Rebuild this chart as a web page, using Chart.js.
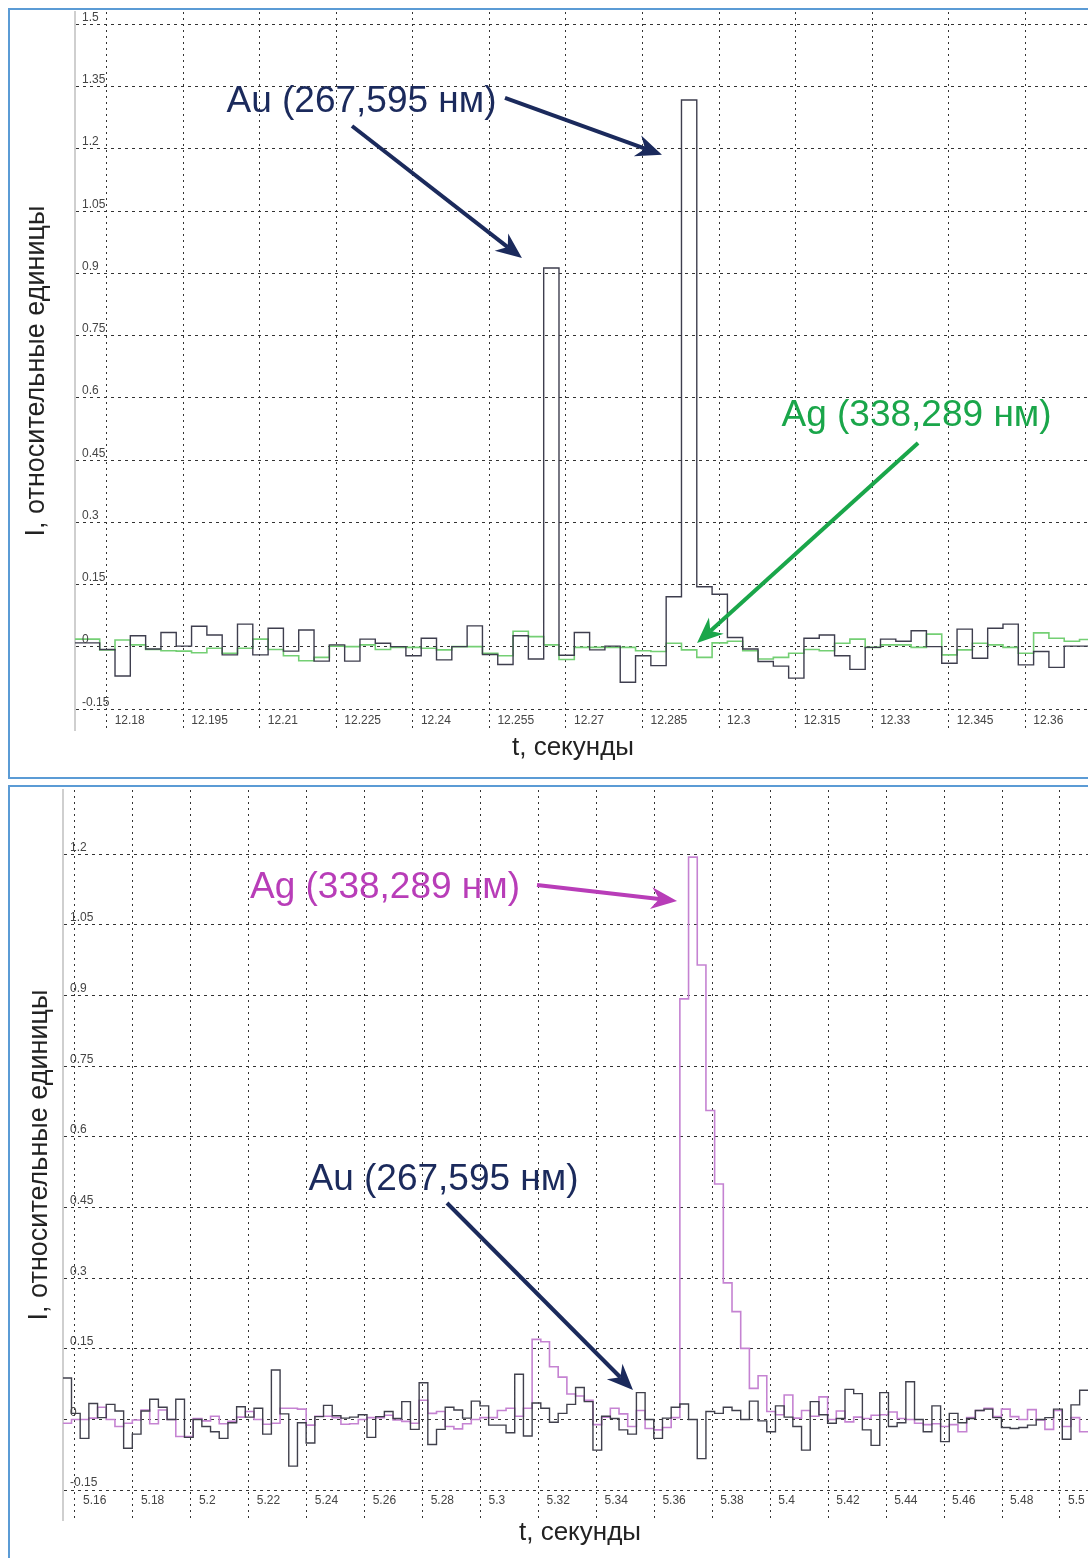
<!DOCTYPE html>
<html>
<head>
<meta charset="utf-8">
<script src="https://cdn.jsdelivr.net/npm/chart.js@4.4.1/dist/chart.umd.min.js"></script>
<style>
  body { margin: 0; background: #fff; width: 1088px; height: 1558px; overflow: hidden; position: relative; }
  .frame { position: absolute; border: 2px solid #5b9bd5; border-right: none; box-sizing: border-box; }
  canvas { position: absolute; left: 0; }
</style>
</head>
<body>
<div class="frame" style="left:8px;top:8px;width:1090px;height:771px"></div>
<div class="frame" style="left:8px;top:785px;width:1090px;height:790px"></div>
<canvas id="top" width="1088" height="780" style="top:0"></canvas>
<canvas id="bottom" width="1088" height="778" style="top:780px"></canvas>
<script>
// шаг дискретизации, с
const binStep = 0.003;

// верхний график
const topTicksX = [12.18, 12.195, 12.21, 12.225, 12.24, 12.255, 12.27, 12.285, 12.3, 12.315, 12.33, 12.345, 12.36];
const topTicksY = [-0.15, 0, 0.15, 0.3, 0.45, 0.6, 0.75, 0.9, 1.05, 1.2, 1.35, 1.5];
const topStart = 12.17263;
const topAu = [
  0.01, 0.01, -0.006, -0.07, 0.027, -0.005, 0.035, 0.002, 0.05, 0.029,
  -0.019, 0.055, -0.019, 0.045, -0.01, 0.041, -0.034, 0.005, -0.034, 0.019,
  0.009, 0.001, -0.021, 0.021, -0.031, 0.001, 0.051, -0.018, -0.042, 0.027,
  -0.029, 0.913, -0.02, 0.035, -0.007, 0.002, -0.085, -0.021, -0.045, 0.121,
  1.318, 0.145, 0.127, 0.023, -0.005, -0.035, -0.046, -0.075, 0.021, 0.029,
  -0.021, -0.054, -0.001, 0.019, 0.014, 0.039, 0.001, -0.039, 0.043, -0.027,
  0.045, 0.055, -0.043, -0.011, -0.049, 0.002, 0.002
];
const topAg = [
  0.019, 0.019, -0.007, 0.017, 0.005, -0.006, -0.009, -0.01, -0.014, -0.003,
  -0.015, -0.003, 0.019, -0.006, -0.021, -0.033, -0.025, 0.002, 0.001, 0.005,
  -0.006, -0.001, -0.001, -0.003, -0.007, 0.001, 0.001, -0.015, -0.021, 0.038,
  0.025, 0.005, -0.03, -0.001, -0.001, -0.001, -0.001, -0.009, -0.011, 0.009,
  -0.007, -0.025, 0.01, 0.014, -0.009, -0.029, -0.025, -0.015, -0.006, -0.009,
  0.009, 0.019, -0.001, 0.005, 0.005, -0.001, 0.031, -0.019, -0.007, 0.009,
  0.005, -0.001, -0.015, 0.034, 0.021, 0.014, 0.018
];

// нижний график
const botTicksX = [5.16, 5.18, 5.2, 5.22, 5.24, 5.26, 5.28, 5.3, 5.32, 5.34, 5.36, 5.38, 5.4, 5.42, 5.44, 5.46, 5.48, 5.5];
const botTicksY = [-0.15, 0, 0.15, 0.3, 0.45, 0.6, 0.75, 0.9, 1.05, 1.2];
const botStart = 5.15579;
const botAu = [
  0.088, 0.013, -0.04, 0.034, 0.004, 0.032, 0.018, -0.061, -0.031, 0.018,
  0.043, 0.026, 0.0, 0.043, -0.038, 0.0, -0.015, -0.026, -0.04, -0.007,
  0.027, 0.005, 0.024, -0.031, 0.105, 0.012, -0.099, -0.007, -0.05, 0.006,
  0.03, 0.008, 0.003, 0.005, 0.01, -0.038, 0.006, 0.017, 0.002, 0.038,
  -0.021, 0.078, -0.053, -0.021, 0.026, 0.02, 0.003, 0.039, 0.029, -0.012,
  -0.012, -0.028, 0.096, -0.035, 0.035, 0.024, -0.006, 0.013, 0.032, 0.068,
  0.038, -0.065, 0.007, 0.002, -0.022, -0.031, 0.057, 0.0, -0.04, 0.003,
  0.026, 0.033, 0.0, -0.083, 0.017, 0.013, 0.026, 0.019, 0.0, 0.039,
  -0.003, -0.026, 0.029, 0.005, -0.015, -0.065, 0.038, 0.01, -0.008, 0.002,
  0.064, 0.055, -0.022, -0.055, 0.057, -0.015, -0.007, 0.08, 0.0, -0.026,
  0.029, -0.047, 0.013, -0.007, 0.002, 0.019, 0.022, 0.004, -0.017, -0.019,
  -0.017, -0.012, 0.0, 0.004, 0.022, -0.042, 0.031, 0.062
];
const botAg = [
  -0.008, 0.0, 0.0, 0.003, 0.026, 0.0, -0.015, -0.008, -0.001, 0.02,
  -0.009, 0.02, 0.0, -0.036, -0.036, 0.002, -0.003, 0.007, -0.009, -0.004,
  0.005, 0.017, 0.0, -0.01, -0.008, 0.024, 0.024, 0.022, -0.012, 0.007,
  0.007, 0.004, -0.01, -0.009, 0.0, 0.004, 0.004, 0.009, -0.001, -0.004,
  -0.008, 0.041, 0.013, 0.017, -0.015, -0.02, -0.009, 0.0, 0.004, 0.004,
  0.019, 0.024, 0.007, 0.024, 0.17, 0.165, 0.112, 0.09, 0.054, 0.05,
  0.041, -0.011, 0.005, 0.024, 0.012, -0.015, 0.019, -0.019, -0.022, -0.017,
  0.004, 0.893, 1.194, 0.965, 0.656, 0.5, 0.29, 0.229, 0.151, 0.066,
  0.093, 0.017, 0.01, 0.052, 0.003, 0.019, 0.007, 0.048, 0.0, 0.018,
  -0.005, 0.005, 0.002, 0.009, 0.01, 0.016, 0.002, 0.0, -0.008, -0.011,
  -0.009, -0.015, -0.011, -0.026, 0.004, 0.019, 0.024, 0.006, 0.022, 0.006,
  0.0, 0.021, -0.001, -0.021, 0.019, -0.015, 0.004, -0.026
];

const FONT = '"Liberation Sans", Arial, sans-serif';
const NAVY = '#1b2a5c';

// точки ступенчатой линии: значение держится до начала следующего отсчёта
function steps(start, vals) {
  const pts = vals.map((v, k) => ({ x: start + k * binStep, y: v }));
  pts.push({ x: start + vals.length * binStep, y: vals[vals.length - 1] });
  return pts;
}

function arrow(ctx, x1, y1, x2, y2, color) {
  const ang = Math.atan2(y2 - y1, x2 - x1);
  const cos = Math.cos(ang), sin = Math.sin(ang);
  const len = 26, half = 11;
  const bx = x2 - cos * len, by = y2 - sin * len;
  ctx.strokeStyle = color;
  ctx.fillStyle = color;
  ctx.lineWidth = 4;
  ctx.beginPath();
  ctx.moveTo(x1, y1);
  ctx.lineTo(bx + cos * 8, by + sin * 8);
  ctx.stroke();
  ctx.beginPath();
  ctx.moveTo(x2, y2);
  ctx.lineTo(bx - sin * half, by + cos * half);
  ctx.lineTo(bx + cos * 8, by + sin * 8);
  ctx.lineTo(bx + sin * half, by - cos * half);
  ctx.closePath();
  ctx.fill();
}

function labelsPlugin(p) {
  return {
    id: 'labels',
    afterDraw(chart) {
      const { ctx, chartArea: a, scales: { x, y } } = chart;
      ctx.save();
      // подписи делений внутри поля графика
      ctx.fillStyle = '#444';
      ctx.font = '12px ' + FONT;
      ctx.textAlign = 'left';
      ctx.textBaseline = 'bottom';
      p.yTicks.forEach(v => ctx.fillText(String(v), a.left + 7, y.getPixelForValue(v) - 1));
      ctx.textBaseline = 'top';
      const ly = y.getPixelForValue(p.yTicks[0]) + 5;
      p.xTicks.forEach(v => ctx.fillText(String(v), x.getPixelForValue(v) + 8, ly));

      // названия осей
      ctx.fillStyle = '#222';
      ctx.textAlign = 'center';
      ctx.textBaseline = 'middle';
      ctx.font = '26px ' + FONT;
      ctx.fillText('t, секунды', p.xTitleX, p.xTitleY);
      ctx.save();
      ctx.font = '27px ' + FONT;
      ctx.translate(p.yTitleX, (a.top + a.bottom) / 2);
      ctx.rotate(-Math.PI / 2);
      ctx.fillText('I, относительные единицы', 0, 0);
      ctx.restore();

      // подписи линий и стрелки
      ctx.font = '37px ' + FONT;
      p.notes.forEach(n => {
        ctx.fillStyle = n.color;
        ctx.fillText(n.text, x.getPixelForValue(n.at[0]), y.getPixelForValue(n.at[1]));
        n.arrows.forEach(r => arrow(ctx,
          x.getPixelForValue(r[0]), y.getPixelForValue(r[1]),
          x.getPixelForValue(r[2]), y.getPixelForValue(r[3]), n.color));
      });
      ctx.restore();
    }
  };
}

function makePanel(id, s) {
  const axis = (min, max, ticks) => ({
    type: 'linear',
    min: min,
    max: max,
    afterBuildTicks: scale => { scale.ticks = ticks.map(v => ({ value: v })); },
    ticks: { display: false },
    grid: { color: '#333', lineWidth: 1, drawTicks: false },
    border: { display: false, dash: [2, 4] }
  });
  const xAxis = axis(s.xMin, s.xMax, s.xTicks);
  const yAxis = axis(s.yMin, s.yMax, s.yTicks);
  yAxis.border = { display: true, color: '#cfcfcf', width: 2, dash: [3, 4] };

  new Chart(document.getElementById(id).getContext('2d'), {
    type: 'line',
    data: {
      datasets: [{
        label: 'Au (267,595 нм)',
        data: steps(s.start, s.au),
        borderColor: s.auColor,
        borderWidth: 1.4,
        stepped: true,
        pointRadius: 0,
        fill: false
      }, {
        label: 'Ag (338,289 нм)',
        data: steps(s.start, s.ag),
        borderColor: s.agColor,
        borderWidth: 1.6,
        stepped: true,
        pointRadius: 0,
        fill: false
      }]
    },
    options: {
      responsive: false,
      animation: false,
      layout: { padding: s.padding },
      plugins: { legend: { display: false }, tooltip: { enabled: false } },
      scales: { x: xAxis, y: yAxis }
    },
    plugins: [labelsPlugin(s)]
  });
}

makePanel('top', {
  start: topStart, au: topAu, ag: topAg,
  auColor: '#3e3e4e', agColor: '#74cf74',
  xMin: 12.17379, xMax: 12.37229, yMin: -0.2, yMax: 1.53,
  xTicks: topTicksX, yTicks: topTicksY,
  padding: { left: 75, top: 12, right: 0, bottom: 50 },
  xTitleX: 573, xTitleY: 748, yTitleX: 37,
  notes: [
    { text: 'Au (267,595 нм)', color: NAVY, at: [12.22993, 1.313],
      arrows: [[12.22807, 1.2554, 12.26137, 0.937], [12.25805, 1.323, 12.28881, 1.186]] },
    { text: 'Ag (338,289 нм)', color: '#1aa64a', at: [12.33869, 0.5566],
      arrows: [[12.33899, 0.4916, 12.29568, 0.0096]] }
  ]
});

makePanel('bottom', {
  start: botStart, au: botAu, ag: botAg,
  auColor: '#40404c', agColor: '#c583d2',
  xMin: 5.15586, xMax: 5.50967, yMin: -0.2134, yMax: 1.3365,
  xTicks: botTicksX, yTicks: botTicksY,
  padding: { left: 63, top: 10, right: 0, bottom: 38 },
  xTitleX: 580, xTitleY: 753, yTitleX: 40,
  notes: [
    { text: 'Ag (338,289 нм)', color: '#b83db8', at: [5.26701, 1.1285],
      arrows: [[5.31948, 1.1348, 5.36781, 1.1008]] },
    { text: 'Au (267,595 нм)', color: NAVY, at: [5.2872, 0.5085],
      arrows: [[5.28841, 0.4597, 5.35261, 0.0626]] }
  ]
});
</script>
</body>
</html>
